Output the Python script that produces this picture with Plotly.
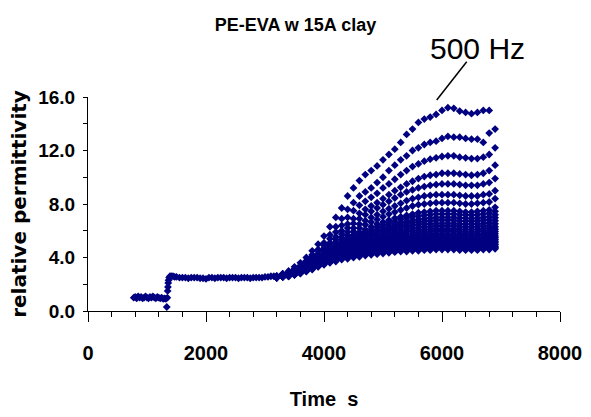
import plotly.graph_objects as go

# ---- early period (all frequencies overlap) ----
early_t = [775, 800, 825, 850, 875, 900, 925, 950, 975, 1000, 1025, 1050, 1075, 1100,
           1125, 1150, 1175, 1200, 1225, 1250, 1275, 1300, 1320, 1335, 1345, 1350, 1355,
           1360, 1365, 1375, 1390, 1410, 1440, 1470, 1500,
           1550, 1600, 1650, 1700, 1750, 1800, 1850, 1900, 1950, 2000, 2050, 2100, 2150,
           2200, 2250, 2300, 2350, 2400, 2450, 2500, 2550, 2600, 2650, 2700, 2750, 2800,
           2850, 2900, 2950, 3000, 3050, 3100, 3150]
early_v = [1.0, 1.05, 0.95, 1.1, 1.0, 1.05, 0.95, 1.0, 1.1, 1.0, 0.95, 1.05, 1.0, 1.1,
           1.0, 0.95, 1.05, 1.0, 0.95, 1.0, 0.9, 0.95, 0.9, 0.3, 1.0, 1.5, 1.8,
           2.1, 2.3, 2.5, 2.6, 2.6, 2.6, 2.55, 2.55,
           2.5, 2.5, 2.5, 2.45, 2.5, 2.5, 2.5, 2.45, 2.45, 2.4, 2.5, 2.5, 2.45,
           2.5, 2.5, 2.5, 2.45, 2.5, 2.5, 2.5, 2.45, 2.5, 2.5, 2.5, 2.45, 2.5,
           2.5, 2.5, 2.5, 2.55, 2.55, 2.6, 2.6]

# ---- frequency sweeps (one value per sweep time per frequency) ----
sweep_t = [3200, 3300, 3400, 3500, 3600, 3700, 3800, 3900, 4000, 4100, 4200, 4300, 4400,
           4500, 4600, 4700, 4800, 4900, 5000, 5100, 5200, 5300, 5400, 5500, 5600, 5700,
           5800, 5900, 6000, 6100, 6200, 6300, 6400, 6500, 6600, 6700, 6800, 6900]

s01 = [2.6, 2.8, 3.0, 3.3, 3.6, 4.0, 4.5, 5.0, 5.6, 6.3, 7.0, 7.7, 8.6, 9.2, 9.75, 10.2, 10.5, 10.85, 11.3,
       11.7, 12.1, 12.6, 13.2, 13.6, 14.1, 14.35, 14.5, 14.7, 15.0, 15.2, 15.15, 14.95, 14.85, 14.75, 14.85,
       15.0, 15.0, None]
s02 = [2.58, 2.75, 2.9, 3.15, 3.4, 3.75, 4.2, 4.6, 5.1, 5.7, 6.3, 6.9, 7.6, 8.1, 8.6, 8.9, 9.2, 9.6, 10.0,
       10.5, 10.9, 11.3, 11.6, 12.0, 12.2, 12.45, 12.6, 12.7, 12.9, 13.05, 13.0, 13.0, 12.9, 12.85, 12.85,
       12.6, 13.3, 13.6]
s03 = [2.6, 2.75, 2.9, 3.1, 3.35, 3.7, 4.1, 4.5, 4.9, 5.4, 5.9, 6.4, 7.0, 7.5, 7.9, 8.2, 8.5, 8.8, 9.2,
       9.5, 9.85, 10.2, 10.5, 10.8, 11.0, 11.2, 11.35, 11.45, 11.55, 11.6, 11.6, 11.5, 11.45, 11.4, 11.4,
       11.5, 11.7, 12.2]
s04 = [2.6, 2.7, 2.85, 3.05, 3.3, 3.6, 3.95, 4.3, 4.7, 5.1, 5.55, 6.0, 6.5, 6.9, 7.3, 7.6, 7.85, 8.1, 8.4,
       8.7, 9.0, 9.25, 9.5, 9.7, 9.9, 10.05, 10.15, 10.2, 10.3, 10.3, 10.3, 10.25, 10.2, 10.15, 10.2,
       10.3, 10.5, 10.9]
s05 = [2.6, 2.7, 2.85, 3.0, 3.25, 3.5, 3.85, 4.2, 4.55, 4.95, 5.35, 5.75, 6.2, 6.55, 6.9, 7.2, 7.45, 7.7,
       7.95, 8.2, 8.45, 8.7, 8.9, 9.05, 9.2, 9.3, 9.4, 9.45, 9.5, 9.5, 9.5, 9.45, 9.4, 9.4, 9.4, 9.5,
       9.6, 9.9]
s06 = [2.55, 2.7, 2.8, 3.0, 3.2, 3.45, 3.75, 4.1, 4.45, 4.8, 5.15, 5.5, 5.9, 6.2, 6.5, 6.75, 7.0, 7.2,
       7.45, 7.65, 7.85, 8.05, 8.25, 8.4, 8.5, 8.6, 8.65, 8.7, 8.7, 8.7, 8.7, 8.65, 8.6, 8.6, 8.6, 8.7,
       8.75, 9.0]
s07 = [2.55, 2.65, 2.8, 2.95, 3.15, 3.4, 3.7, 4.0, 4.3, 4.65, 5.0, 5.3, 5.65, 5.95, 6.2, 6.45, 6.65,
       6.85, 7.05, 7.25, 7.4, 7.55, 7.7, 7.85, 7.95, 8.0, 8.05, 8.1, 8.1, 8.1, 8.1, 8.05, 8.0, 8.0, 8.05,
       8.1, 8.15, 8.4]
s08 = [2.55, 2.65, 2.75, 2.9, 3.1, 3.35, 3.6, 3.9, 4.2, 4.5, 4.8, 5.1, 5.4, 5.7, 5.9, 6.1, 6.3, 6.5,
       6.65, 6.8, 6.95, 7.05, 7.15, 7.25, 7.35, 7.4, 7.45, 7.5, 7.5, 7.5, 7.5, 7.45, 7.4, 7.4, 7.45, 7.5,
       7.55, 7.75]
s08b = [2.55, 2.65, 2.75, 2.9, 3.1, 3.3, 3.6, 3.85, 4.15, 4.4, 4.7, 5.0, 5.3, 5.55, 5.8, 5.95, 6.1,
        6.3, 6.45, 6.6, 6.7, 6.85, 6.95, 7.05, 7.1, 7.15, 7.2, 7.25, 7.25, 7.25, 7.25, 7.2, 7.2, 7.15,
        7.2, 7.25, 7.3, 7.45]
s09 = [2.55, 2.65, 2.75, 2.9, 3.05, 3.3, 3.55, 3.8, 4.1, 4.35, 4.65, 4.9, 5.2, 5.45, 5.65, 5.8, 5.95,
       6.1, 6.25, 6.4, 6.5, 6.6, 6.7, 6.8, 6.85, 6.9, 6.95, 7.0, 7.0, 7.0, 7.0, 6.95, 6.95, 6.9, 6.95,
       7.0, 7.05, 7.2]
s09b = [2.55, 2.62, 2.72, 2.88, 3.02, 3.28, 3.52, 3.78, 4.05, 4.3, 4.58, 4.82, 5.1, 5.32, 5.52, 5.68,
        5.82, 5.95, 6.1, 6.22, 6.32, 6.42, 6.5, 6.6, 6.65, 6.7, 6.72, 6.78, 6.78, 6.78, 6.78, 6.72, 6.72,
        6.7, 6.72, 6.78, 6.82, 6.98]
s10 = [2.55, 2.6, 2.7, 2.85, 3.0, 3.25, 3.5, 3.75, 4.0, 4.25, 4.5, 4.75, 5.0, 5.2, 5.4, 5.55, 5.7, 5.8,
       5.95, 6.05, 6.15, 6.25, 6.3, 6.4, 6.45, 6.5, 6.5, 6.55, 6.55, 6.55, 6.55, 6.5, 6.5, 6.5, 6.5,
       6.55, 6.6, 6.75]
s10b = [2.52, 2.6, 2.7, 2.85, 3.0, 3.22, 3.48, 3.72, 3.95, 4.2, 4.42, 4.68, 4.9, 5.1, 5.28, 5.42, 5.55,
        5.65, 5.78, 5.88, 5.98, 6.05, 6.12, 6.2, 6.25, 6.3, 6.3, 6.35, 6.35, 6.35, 6.35, 6.3, 6.3, 6.3,
        6.3, 6.35, 6.4, 6.52]
s11 = [2.5, 2.6, 2.7, 2.85, 3.0, 3.2, 3.45, 3.7, 3.9, 4.15, 4.35, 4.6, 4.8, 5.0, 5.15, 5.3, 5.4, 5.5,
       5.6, 5.7, 5.8, 5.85, 5.95, 6.0, 6.05, 6.1, 6.1, 6.15, 6.15, 6.15, 6.15, 6.1, 6.1, 6.1, 6.1, 6.15,
       6.2, 6.3]
s11b = [2.5, 2.6, 2.7, 2.82, 2.98, 3.18, 3.42, 3.65, 3.88, 4.1, 4.3, 4.52, 4.7, 4.9, 5.05, 5.18, 5.28,
        5.38, 5.48, 5.58, 5.65, 5.7, 5.78, 5.82, 5.88, 5.92, 5.92, 5.98, 5.98, 5.98, 5.98, 5.92, 5.92,
        5.92, 5.92, 5.98, 6.02, 6.12]
s12 = [2.5, 2.6, 2.7, 2.8, 2.95, 3.15, 3.4, 3.6, 3.85, 4.05, 4.25, 4.45, 4.6, 4.8, 4.95, 5.05, 5.15,
       5.25, 5.35, 5.45, 5.5, 5.55, 5.6, 5.65, 5.7, 5.75, 5.75, 5.8, 5.8, 5.8, 5.8, 5.75, 5.75, 5.75,
       5.75, 5.8, 5.85, 5.95]
s12b = [2.5, 2.6, 2.7, 2.8, 2.95, 3.12, 3.38, 3.58, 3.8, 4.0, 4.2, 4.38, 4.52, 4.7, 4.85, 4.95, 5.05,
        5.15, 5.22, 5.32, 5.38, 5.42, 5.48, 5.52, 5.58, 5.6, 5.62, 5.65, 5.65, 5.65, 5.65, 5.6, 5.6, 5.6,
        5.6, 5.65, 5.7, 5.78]
s13 = [2.5, 2.6, 2.7, 2.8, 2.95, 3.1, 3.35, 3.55, 3.75, 3.95, 4.15, 4.3, 4.45, 4.6, 4.75, 4.85, 4.95,
       5.05, 5.1, 5.2, 5.25, 5.3, 5.35, 5.4, 5.45, 5.45, 5.5, 5.5, 5.5, 5.5, 5.5, 5.45, 5.45, 5.45, 5.45,
       5.5, 5.55, 5.6]
s13b = [2.5, 2.58, 2.68, 2.78, 2.92, 3.1, 3.32, 3.52, 3.72, 3.9, 4.1, 4.25, 4.4, 4.52, 4.65, 4.75, 4.85,
        4.92, 5.0, 5.08, 5.12, 5.18, 5.22, 5.28, 5.32, 5.32, 5.38, 5.38, 5.38, 5.38, 5.38, 5.32, 5.32,
        5.32, 5.32, 5.38, 5.42, 5.48]
s14 = [2.5, 2.55, 2.65, 2.75, 2.9, 3.1, 3.3, 3.5, 3.7, 3.85, 4.05, 4.2, 4.35, 4.45, 4.55, 4.65, 4.75,
       4.8, 4.9, 4.95, 5.0, 5.05, 5.1, 5.15, 5.2, 5.2, 5.25, 5.25, 5.25, 5.25, 5.25, 5.2, 5.2, 5.2, 5.2,
       5.25, 5.3, 5.35]
s14b = [2.5, 2.55, 2.65, 2.75, 2.9, 3.08, 3.28, 3.48, 3.65, 3.82, 4.0, 4.15, 4.28, 4.38, 4.48, 4.58,
        4.65, 4.7, 4.8, 4.85, 4.9, 4.95, 5.0, 5.02, 5.08, 5.08, 5.12, 5.12, 5.12, 5.12, 5.12, 5.08, 5.08,
        5.08, 5.08, 5.12, 5.18, 5.22]
s15 = [2.5, 2.55, 2.65, 2.75, 2.9, 3.05, 3.25, 3.45, 3.6, 3.8, 3.95, 4.1, 4.2, 4.3, 4.4, 4.5, 4.55,
       4.6, 4.7, 4.75, 4.8, 4.85, 4.9, 4.9, 4.95, 4.95, 5.0, 5.0, 5.0, 5.0, 5.0, 4.95, 4.95, 4.95, 4.95,
       5.0, 5.05, 5.1]
s15b = [2.5, 2.55, 2.62, 2.72, 2.88, 3.02, 3.22, 3.4, 3.58, 3.75, 3.9, 4.02, 4.12, 4.22, 4.32, 4.4,
        4.48, 4.52, 4.6, 4.65, 4.7, 4.75, 4.78, 4.8, 4.82, 4.85, 4.88, 4.9, 4.9, 4.9, 4.9, 4.85, 4.85,
        4.85, 4.85, 4.9, 4.92, 4.98]
s16 = [2.5, 2.55, 2.6, 2.7, 2.85, 3.0, 3.2, 3.35, 3.55, 3.7, 3.85, 3.95, 4.05, 4.15, 4.25, 4.3, 4.4,
       4.45, 4.5, 4.55, 4.6, 4.65, 4.65, 4.7, 4.7, 4.75, 4.75, 4.8, 4.8, 4.8, 4.8, 4.75, 4.75, 4.75, 4.75,
       4.8, 4.8, 4.85]
s16b = [2.5, 2.55, 2.6, 2.7, 2.82, 2.98, 3.15, 3.32, 3.5, 3.65, 3.78, 3.9, 3.98, 4.08, 4.15, 4.22, 4.3,
        4.35, 4.4, 4.45, 4.5, 4.55, 4.55, 4.6, 4.6, 4.65, 4.65, 4.7, 4.7, 4.7, 4.7, 4.65, 4.65, 4.65,
        4.65, 4.7, 4.7, 4.75]
s17 = [2.5, 2.55, 2.6, 2.7, 2.8, 2.95, 3.1, 3.3, 3.45, 3.6, 3.7, 3.85, 3.9, 4.0, 4.05, 4.15, 4.2,
       4.25, 4.3, 4.35, 4.4, 4.45, 4.45, 4.5, 4.5, 4.55, 4.55, 4.6, 4.6, 4.6, 4.6, 4.55, 4.55, 4.55, 4.55,
       4.6, 4.6, 4.65]

sweeps = [s01, s02, s03, s04, s05, s06, s07, s08, s08b, s09, s09b, s10, s10b, s11, s11b,
          s12, s12b, s13, s13b, s14, s14b, s15, s15b, s16, s16b, s17]

x_ticks = [0, 2000, 4000, 6000, 8000]
y_ticks = [0.0, 4.0, 8.0, 12.0, 16.0]

NAVY = "#000080"
NARROW = "Liberation Sans Narrow, Arial Narrow, Liberation Sans, Arial, sans-serif"
marker = dict(symbol="diamond", size=6, color=NAVY, line=dict(width=0))

fig = go.Figure()
fig.add_trace(go.Scatter(x=early_t, y=early_v, mode="markers", marker=marker,
                         hoverinfo="x+y", cliponaxis=False))
for s in sweeps:
    fig.add_trace(go.Scatter(x=sweep_t, y=s, mode="markers", marker=marker,
                             hoverinfo="x+y", cliponaxis=False))

fig.update_layout(
    width=591, height=417,
    margin=dict(l=88, r=31, t=97, b=106, autoexpand=False),
    paper_bgcolor="white", plot_bgcolor="white",
    showlegend=False,
    title=dict(text="PE-EVA w 15A clay", x=0.5, xref="container", xanchor="center",
               y=1 - 25 / 417, yref="container", yanchor="middle", automargin=False,
               font=dict(family=NARROW, size=18, color="black", weight="bold")),
    xaxis=dict(range=[0, 8000], tickvals=x_ticks, ticks="outside", ticklen=10,
               tickcolor="black", tickwidth=1, showline=True, linecolor="black", linewidth=1,
               showgrid=False, zeroline=False, ticklabelstandoff=14, automargin=False,
               minor=dict(dtick=400, ticks="outside", ticklen=5, tickcolor="black", showgrid=False),
               tickfont=dict(family=NARROW, size=20, color="black", weight="bold"),
               title=dict(text="Time  s", standoff=28,
                          font=dict(family=NARROW, size=20, color="black", weight="bold"))),
    yaxis=dict(range=[0, 16], tickvals=y_ticks, tickformat=".1f", ticks="outside", ticklen=4,
               tickcolor="black", tickwidth=1, showline=True, linecolor="black", linewidth=1,
               showgrid=False, zeroline=False, ticklabelstandoff=4, automargin=False,
               minor=dict(dtick=2, ticks="outside", ticklen=4, tickcolor="black", showgrid=False),
               tickfont=dict(family=NARROW, size=19, color="black", weight="bold"),
               title=dict(text="relative permittivity", standoff=6,
                          font=dict(family="DejaVu Sans", size=20, color="black", weight="bold"))),
    annotations=[dict(text="500 Hz", xref="paper", yref="paper",
                      x=(477 - 88) / 472, y=(311 - 49) / 214, xanchor="center", yanchor="middle",
                      showarrow=False,
                      font=dict(family="Liberation Sans, Arial", size=30, color="black"))],
    shapes=[dict(type="line", xref="paper", yref="paper",
                 x0=(436.7 - 88) / 472, y0=(311 - 100) / 214,
                 x1=(466.7 - 88) / 472, y1=(311 - 61.7) / 214,
                 line=dict(color="black", width=1.5))],
)

fig.write_html("out.html", config={"displayModeBar": False},
               post_script="document.body.style.margin='0';document.body.style.padding='0';")
